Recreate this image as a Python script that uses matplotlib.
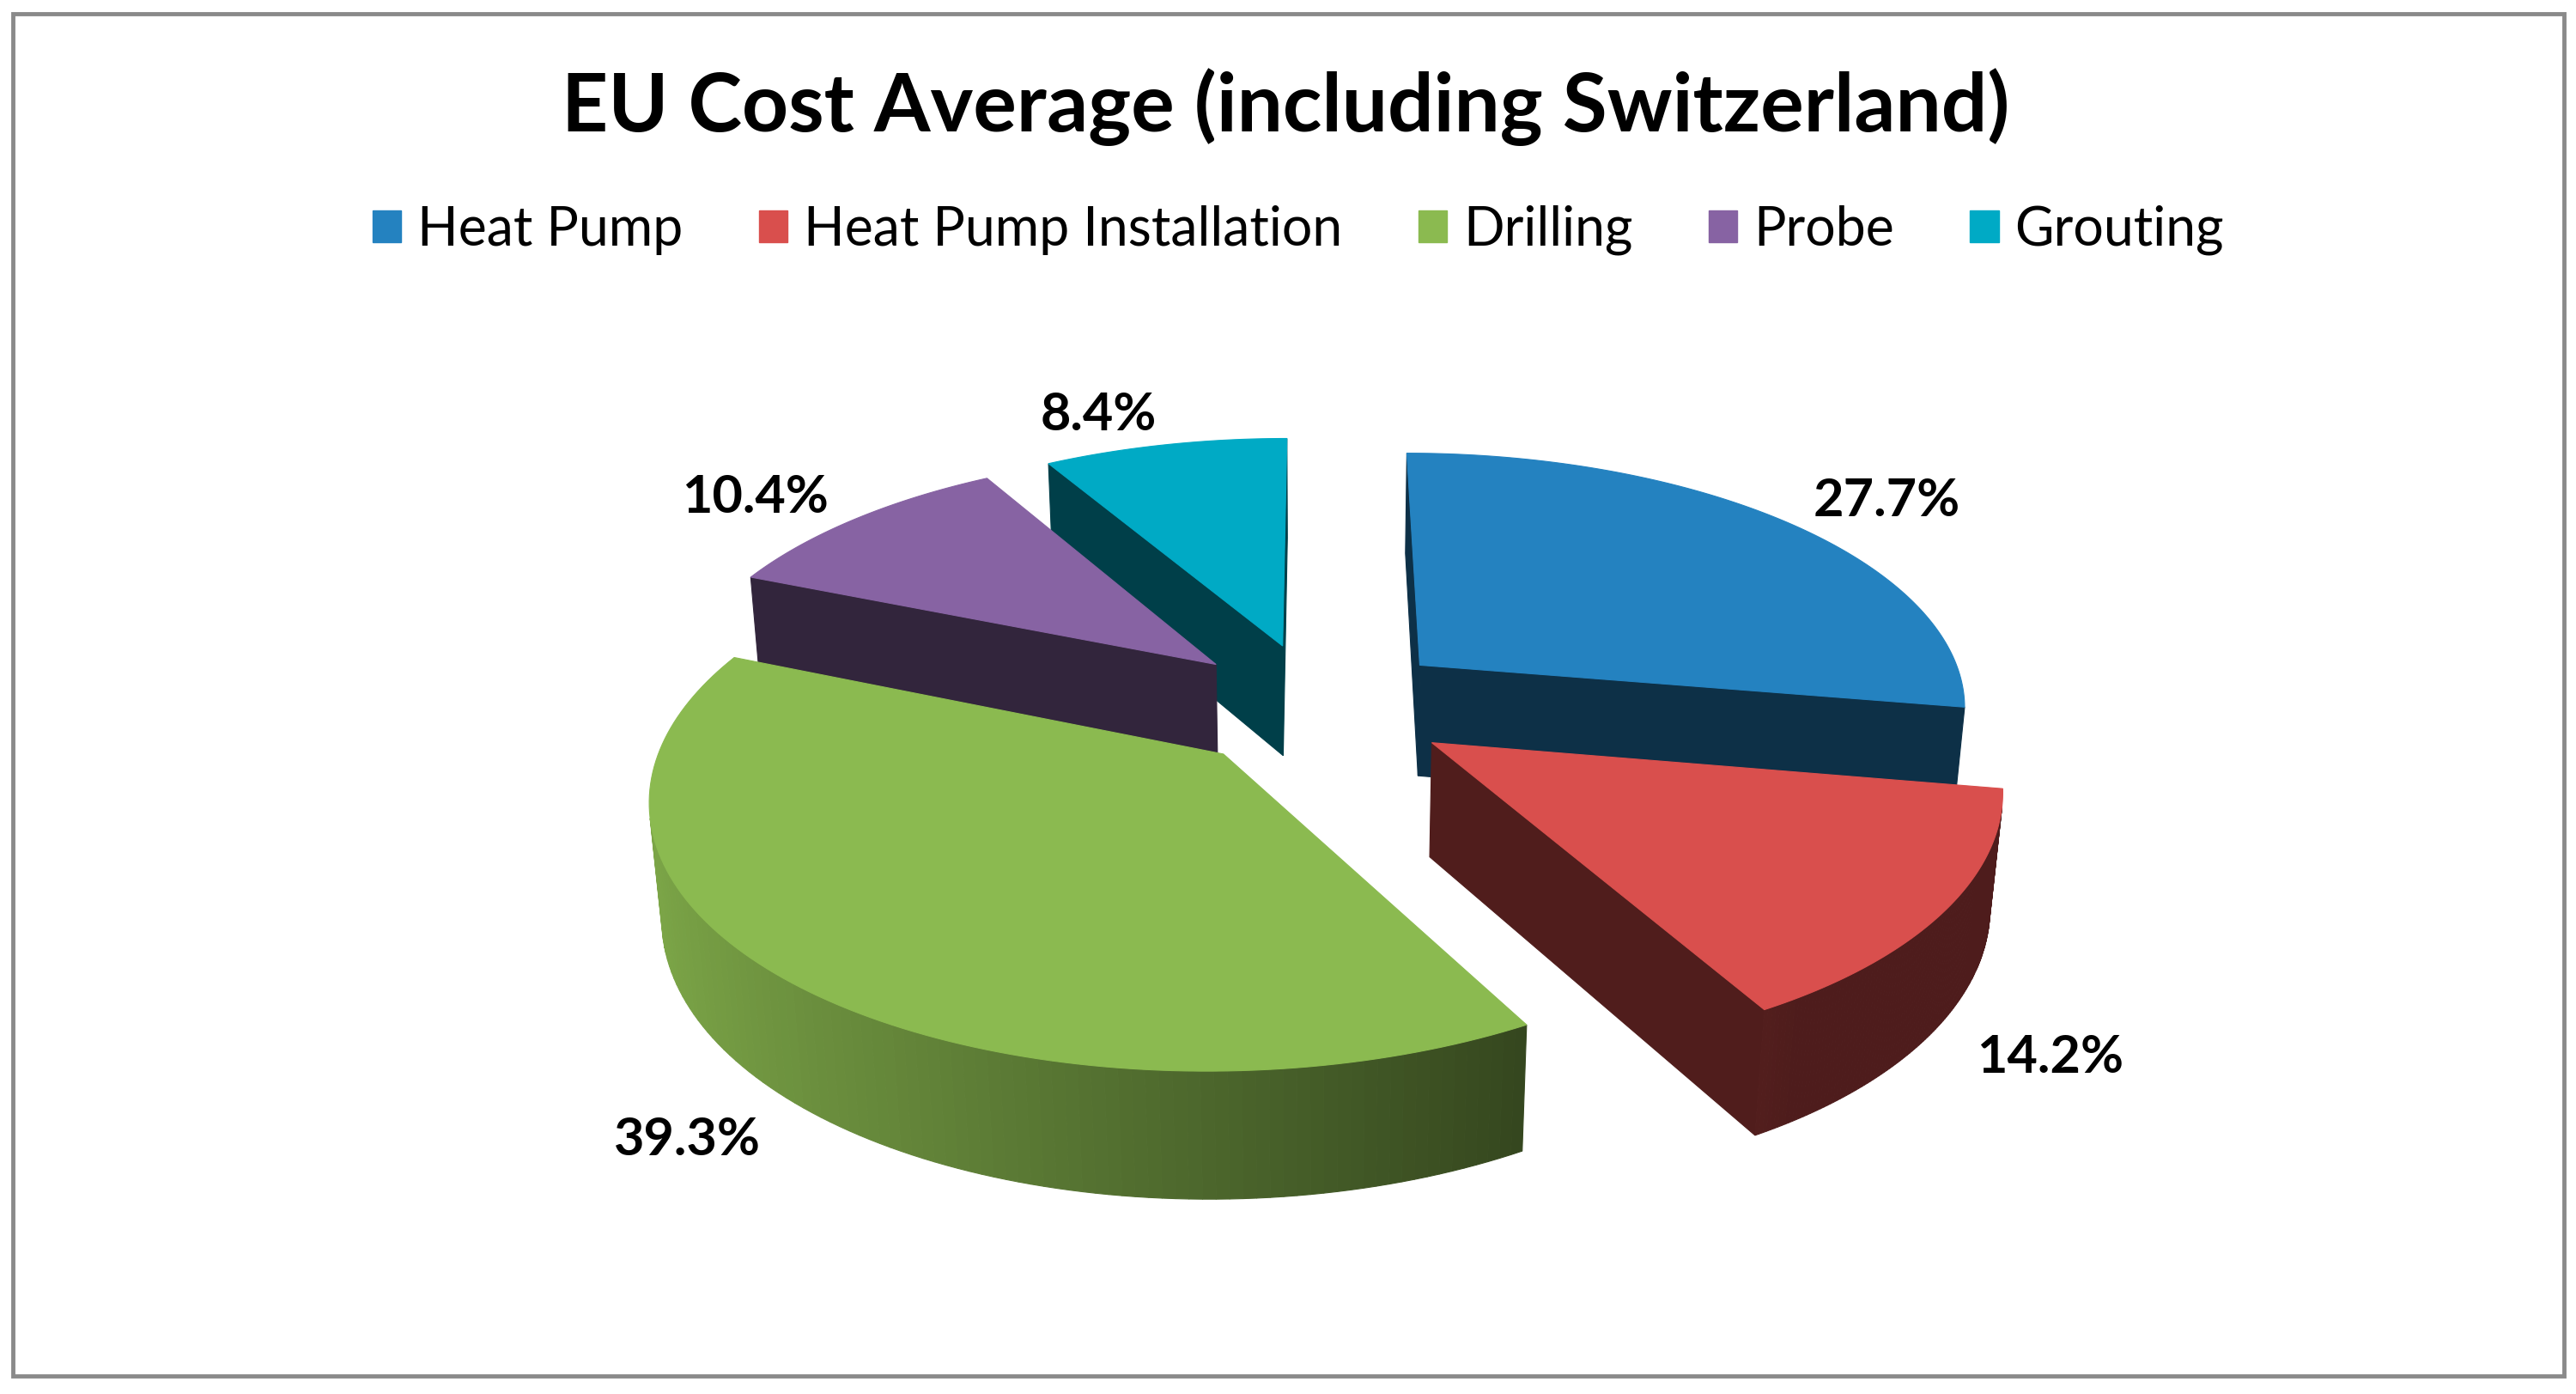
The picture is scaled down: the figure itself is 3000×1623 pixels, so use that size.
import numpy as np
import matplotlib.pyplot as plt
from matplotlib.patches import Polygon, Patch, Rectangle
from matplotlib.colors import to_rgb

plt.rcParams['font.family'] = ['Lato', 'DejaVu Sans']

# data
names = ['Heat Pump', 'Heat Pump Installation', 'Drilling', 'Probe', 'Grouting']
shares = [27.7, 14.2, 39.3, 10.4, 8.4]
colors = ['#2482c0', '#d94f4d', '#8bba50', '#8763a3', '#00aac5']

# 3d view of the exploded pie (pixel space of a 3000x1623 canvas)
pitch = np.radians(27.55)
dist = 6.0
focal = 3840.0
cx, cy = 1534.0, 821.0
explode = 0.25
thick = 0.235


def project(X, Y, Z):
    d = dist - (Y * np.sin(pitch) + Z * np.cos(pitch))
    u = cx + focal * X / d
    v = cy - focal * (Y * np.cos(pitch) - Z * np.sin(pitch)) / d
    return u, v


cam = np.array([0.0, dist * np.sin(pitch), dist * np.cos(pitch)])


def visible(normal, point):
    return np.dot(normal, cam - np.asarray(point)) > 0


def shade(col, k):
    return tuple(np.clip(np.array(to_rgb(col)) * k, 0, 1))


def face(ax, pts, col, z):
    u, v = project(*np.array(pts).T)
    ax.add_patch(Polygon(np.column_stack([u, v]), closed=True, facecolor=col,
                         edgecolor=col, lw=0.8, zorder=z, antialiased=True))


fig = plt.figure(figsize=(30, 16.23), dpi=100)
ax = fig.add_axes([0, 0, 1, 1])
ax.set_xlim(0, 3000)
ax.set_ylim(1623, 0)
ax.axis('off')

# frame
ax.add_patch(Rectangle((15, 16), 2971, 1586, fill=False, edgecolor='#8a8a8a', lw=3.5, zorder=1))

fr = np.array(shares) / sum(shares)
edges = np.concatenate([[0], np.cumsum(fr)]) * 360.0
slices = []
for i in range(len(shares)):
    t0, t1 = np.radians(edges[i]), np.radians(edges[i + 1])
    mid = 0.5 * (t0 + t1)
    ox, oz = explode * np.sin(mid), -explode * np.cos(mid)
    slices.append((i, t0, t1, mid, ox, oz))

# back slices first
order = sorted(slices, key=lambda s: s[5] - 0.5 * np.cos(s[3]))

for rank, (i, t0, t1, mid, ox, oz) in enumerate(order):
    col = colors[i]
    z = 10 + rank * 5
    th = np.linspace(t0, t1, 120)
    rim_x = ox + np.sin(th)
    rim_z = oz - np.cos(th)
    apex_t = (ox, 0.0, oz)
    apex_b = (ox, -thick, oz)

    # radial faces
    for t, sgn in ((t0, -1), (t1, 1)):
        n = sgn * np.array([np.cos(t), 0.0, np.sin(t)])
        rt = (ox + np.sin(t), 0.0, oz - np.cos(t))
        rb = (ox + np.sin(t), -thick, oz - np.cos(t))
        if visible(n, apex_t):
            face(ax, [apex_t, rt, rb, apex_b], shade(col, 0.37), z)

    # outer wall
    for k in range(len(th) - 1):
        tm = 0.5 * (th[k] + th[k + 1])
        n = np.array([np.sin(tm), 0.0, -np.cos(tm)])
        p = (ox + np.sin(tm), 0.0, oz - np.cos(tm))
        if not visible(n, p):
            continue
        kf = np.clip(0.55 + 0.35 * (-np.sin(tm)), 0.36, 0.9)
        face(ax, [(rim_x[k], 0, rim_z[k]), (rim_x[k + 1], 0, rim_z[k + 1]),
                  (rim_x[k + 1], -thick, rim_z[k + 1]), (rim_x[k], -thick, rim_z[k])],
             shade(col, kf), z + 1)

    # top
    top = [apex_t] + [(x, 0.0, zz) for x, zz in zip(rim_x, rim_z)]
    face(ax, top, col, z + 2)

    # data label, outside end
    r = 1.33
    lx, lz = r * np.sin(mid), -r * np.cos(mid)
    ly = 0.0 if lz < 0 else -thick
    u, v = project(lx, ly, lz)
    ax.annotate(f'{shares[i]:.1f}%', (u, v), xytext=(0, 14 * np.cos(mid)),
                textcoords='offset points', ha='left' if np.sin(mid) > 0 else 'right',
                va='center', fontsize=44, fontweight='bold', color='black', zorder=50)

# title
ax.text(1497, 153, 'EU Cost Average (including Switzerland)', ha='center', va='baseline',
        fontsize=68, fontweight='bold', color='black')

handles = [Patch(facecolor=c, edgecolor=c) for c in colors]
fig.legend(handles, names, loc='center', bbox_to_anchor=(1512 / 3000, 1 - 268 / 1623), ncol=5,
           frameon=False, fontsize=45, handlelength=0.53, handleheight=0.53,
           handletextpad=0.3, columnspacing=1.42, borderpad=0, borderaxespad=0)

fig.savefig('out.png', dpi=100, facecolor='white')
